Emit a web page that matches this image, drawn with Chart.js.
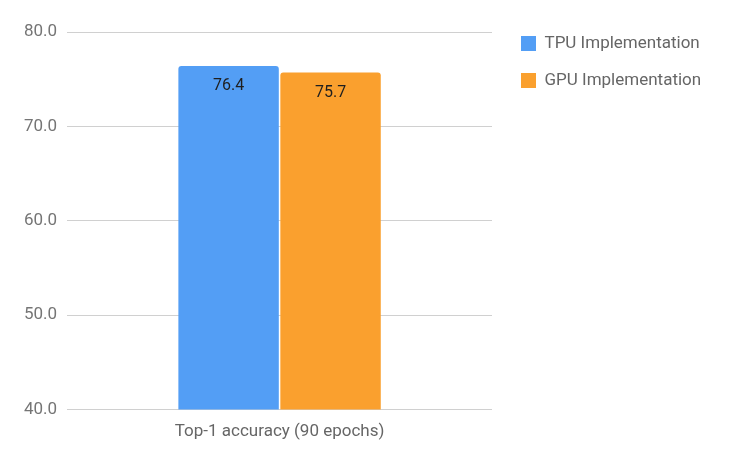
<!DOCTYPE html>
<html>
<head>
<meta charset="utf-8">
<script src="https://cdn.jsdelivr.net/npm/chart.js@4"></script>
<style>
  html, body { margin: 0; padding: 0; background: #fff; }
  #wrap { width: 740px; height: 458px; }
</style>
</head>
<body>
<div id="wrap"><canvas id="accChart"></canvas></div>
<script>
const categories = ['Top-1 accuracy (90 epochs)'];
const seriesNames = ['TPU Implementation', 'GPU Implementation'];
const tpuValues = [76.4];
const gpuValues = [75.7];
const yTicks = [40, 50, 60, 70, 80];

// draws the number inside the top of each bar
const valueLabels = {
    id: 'valueLabels',
    afterDatasetsDraw(chart) {
        const ctx = chart.ctx;
        ctx.save();
        ctx.font = '16px Roboto';
        ctx.fillStyle = '#1f1f1f';
        ctx.textAlign = 'center';
        ctx.textBaseline = 'middle';
        chart.data.datasets.forEach((ds, i) => {
            chart.getDatasetMeta(i).data.forEach((bar, j) => {
                ctx.fillText(ds.data[j].toFixed(1), bar.x, bar.y + 20);
            });
        });
        ctx.restore();
    }
};

// give the legend a fixed width and nudge it up / right like the original
const legendPlace = {
    id: 'legendPlace',
    beforeInit(chart) {
        const lg = chart.legend;
        const origFit = lg.fit;
        lg.fit = function () {
            origFit.call(this);
            this.width = 238;
        };
    },
    afterLayout(chart) {
        const lg = chart.legend;
        lg.left += 9; lg.right += 9;
        lg.top -= 17; lg.bottom -= 17;
    }
};

function drawChart() {
    const ctx = document.getElementById('accChart').getContext('2d');
    new Chart(ctx, {
        type: 'bar',
        data: {
            labels: categories,
            datasets: [{
                label: seriesNames[0],
                data: tpuValues,
                backgroundColor: 'rgb(83, 158, 245)',
                borderRadius: { topLeft: 3, topRight: 3 },
                borderSkipped: 'bottom'
            }, {
                label: seriesNames[1],
                data: gpuValues,
                backgroundColor: 'rgb(250, 160, 46)',
                borderRadius: { topLeft: 3, topRight: 3 },
                borderSkipped: 'bottom'
            }]
        },
        options: {
            responsive: true,
            maintainAspectRatio: false,
            animation: false,
            categoryPercentage: 0.48,
            barPercentage: 0.985,
            layout: { padding: { top: 32, right: 10, bottom: 12, left: 14 } },
            plugins: {
                tooltip: { enabled: false },
                legend: {
                    position: 'right',
                    align: 'start',
                    labels: {
                        font: { family: 'Roboto', size: 17 },
                        color: '#666',
                        boxWidth: 15,
                        boxHeight: 15,
                        padding: 20
                    }
                }
            },
            scales: {
                x: {
                    grid: { display: false },
                    border: { display: false },
                    ticks: { font: { family: 'Roboto', size: 17 }, color: '#666', padding: 4 }
                },
                y: {
                    min: 40,
                    max: 80,
                    afterBuildTicks(axis) {
                        axis.ticks = yTicks.map(v => ({ value: v }));
                    },
                    grid: { color: '#d0d0d0', drawTicks: false },
                    border: { display: false },
                    ticks: {
                        font: { family: 'Roboto', size: 17 },
                        color: '#757575',
                        padding: 10,
                        callback: v => v.toFixed(1)
                    }
                }
            }
        },
        plugins: [legendPlace, valueLabels]
    });
}

document.fonts.load('17px Roboto').then(drawChart, drawChart);
</script>
</body>
</html>
